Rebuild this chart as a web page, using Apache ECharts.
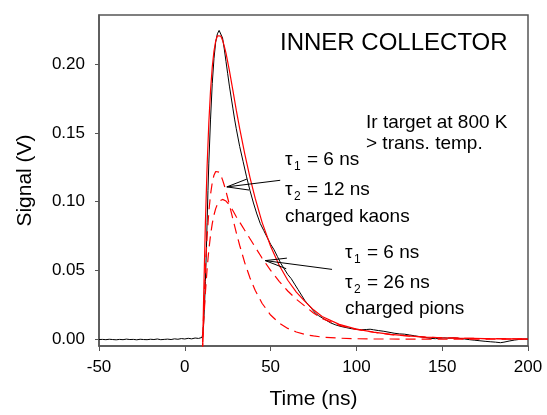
<!DOCTYPE html>
<html>
<head>
<meta charset="utf-8">
<script src="https://cdn.jsdelivr.net/npm/echarts@6/dist/echarts.min.js"></script>
<style>
  html, body { margin: 0; padding: 0; background: #fff; }
  #main { width: 547px; height: 415px; }
</style>
</head>
<body>
<div id="main"></div>
<script>
// measured signal (black trace)
const measTime = [
  -50, -48, -46, -44, -42, -40, -38, -36, -34, -32,
  -30, -28, -26, -24, -22, -20, -18, -16, -14, -12,
  -10, -8, -6, -4, -2, 0, 2, 4, 6, 8,
  10, 10.5, 11, 11.5, 12, 12.5, 13, 13.5, 14, 15,
  16, 17, 18, 19, 20, 21, 22, 23, 24, 25,
  26, 28, 29, 30, 32, 34, 36, 38, 40, 42,
  44, 46, 48, 50, 52, 54, 56, 58, 60, 62,
  64, 66, 68, 70, 72, 74, 76, 78, 80, 82,
  85, 88, 91, 94, 97, 100, 103, 106, 108, 110,
  113, 116, 119, 122, 125, 128, 131, 134, 137, 140,
  143, 146, 148, 151, 154, 157, 160, 163, 166, 169,
  172, 175, 178, 181, 184, 186, 189, 192, 195, 198,
  200
];
const measSignal = [
  -0.0003, -0.0002, -0.0004, -0.0001, -0.0003, -0.0005, -0.0002, -0.0004, 0.0000, -0.0003,
  -0.0002, -0.0005, -0.0001, -0.0003, -0.0004, -0.0001, -0.0003, 0.0001, -0.0004, -0.0002,
  0.0000, -0.0003, 0.0002, -0.0001, 0.0004, 0.0001, 0.0006, 0.0002, 0.0008, 0.0005,
  0.0012, 0.004, 0.012, 0.025, 0.042, 0.062, 0.085, 0.108, 0.128, 0.160,
  0.186, 0.204, 0.216, 0.222, 0.2245, 0.2240, 0.219, 0.211, 0.202, 0.193,
  0.184, 0.168, 0.160, 0.153, 0.140, 0.129, 0.118, 0.108, 0.099, 0.091,
  0.084, 0.079, 0.074, 0.069, 0.065, 0.060, 0.055, 0.051, 0.047, 0.044,
  0.040, 0.036, 0.032, 0.028, 0.025, 0.022, 0.019, 0.017, 0.0155, 0.014,
  0.0118, 0.0103, 0.0092, 0.0084, 0.0076, 0.0072, 0.0068, 0.0070, 0.0072, 0.0068,
  0.0062, 0.0057, 0.0050, 0.0043, 0.0038, 0.0036, 0.0030, 0.0024, 0.0018, 0.0012,
  0.0006, 0.0003, 0.0006, 0.0009, 0.0007, 0.0009, 0.0005, 0.0001, -0.0004, -0.0008,
  -0.0012, -0.0016, -0.0019, -0.0022, -0.0026, -0.0022, -0.0014, -0.0007, -0.0002, 0.0001,
  0.0000
];

// fitted curves (red)
const fitTime = [
  10, 10.5, 11, 12, 13, 14, 15, 16, 17, 18,
  19, 20, 21, 22, 23, 24, 26, 28, 30, 32,
  35, 38, 41, 45, 50, 55, 60, 65, 70, 75,
  80, 90, 100, 110, 120, 130, 140, 150, 160, 175,
  200
];
const fitTotal = [
  -0.0356, 0, 0.0317, 0.0846, 0.1259, 0.1574, 0.1809, 0.1979, 0.2095, 0.2168,
  0.2206, 0.2216, 0.2204, 0.2174, 0.2131, 0.2079, 0.1952, 0.1810, 0.1665, 0.1531,
  0.1343, 0.1175, 0.1025, 0.0851, 0.0675, 0.0537, 0.0428, 0.0342, 0.0274, 0.0213,
  0.0165, 0.0107, 0.0073, 0.0051, 0.0034, 0.0023, 0.0015, 0.0010, 0.0007, 0.0004,
  0.0001
];
const fitKaon = [
  -0.0218, 0, 0.0192, 0.0508, 0.0748, 0.0926, 0.1053, 0.1139, 0.1192, 0.1219,
  0.1225, 0.1214, 0.1191, 0.1158, 0.1119, 0.1075, 0.0977, 0.0875, 0.0775, 0.0681,
  0.0553, 0.0445, 0.0355, 0.0261, 0.0175, 0.0117, 0.0078, 0.0052, 0.0034, 0.0023,
  0.0015, 0.0007, 0.0003, 0.0001, 0.0001, 0, 0, 0, 0, 0,
  0
];
const fitPion = [
  -0.0138, 0, 0.0125, 0.0338, 0.0511, 0.0648, 0.0756, 0.0840, 0.0903, 0.0949,
  0.0981, 0.1002, 0.1013, 0.1016, 0.1012, 0.1004, 0.0975, 0.0935, 0.0890, 0.0850,
  0.0790, 0.0730, 0.0670, 0.0590, 0.0500, 0.0420, 0.0350, 0.0290, 0.0240, 0.0190,
  0.0150, 0.0100, 0.0070, 0.0050, 0.0033, 0.0023, 0.0015, 0.0010, 0.0007, 0.0004,
  0.0001
];

const yTicks = [0, 0.05, 0.1, 0.15, 0.2];

// arrows pointing at the dashed curves (data coords)
const kaonArrowLine = [[55.6, 0.1155], [24.5, 0.1107]];
const kaonArrowHead = [[36.2, 0.1164], [24.5, 0.1107], [37.5, 0.1084]];
const pionArrowLine = [[85.8, 0.0507], [46.9, 0.0571]];
const pionArrowHead = [[59.5, 0.0589], [46.9, 0.0571], [59.1, 0.0512]];

const FONT = '"Liberation Sans", Arial, sans-serif';

let zip = (xs, ys) => xs.map((x, i) => [x, ys[i]]);

let arrowSeries = (pts) => ({
  type: "line",
  data: pts,
  showSymbol: false,
  silent: true,
  lineStyle: { color: "#000", width: 1 },
  z: 5,
});

let txt = (x, y, text, size) => ({
  type: "text",
  x: x,
  y: y,
  style: {
    text: text,
    font: size + "px " + FONT,
    fill: "#000",
    verticalAlign: "middle",
    align: "left",
  },
});

// tau line: τ + subscript + rest
let tau = (x, y, sub, rest) => [
  txt(x, y, "τ", 19),
  txt(x + 9, y + 7, sub, 12),
  txt(x + 22, y, rest, 19),
];

let element = document.getElementById("main");
let myChart = echarts.init(element);
let option = {
  animation: false,
  grid: {
    left: 99,
    right: 19,
    top: 15,
    bottom: 63,
    show: true,
    borderColor: "#555",
    borderWidth: 1.5,
  },
  xAxis: {
    type: "value",
    min: -50,
    max: 200,
    interval: 50,
    name: "Time (ns)",
    nameLocation: "middle",
    nameGap: 43,
    nameTextStyle: { fontFamily: FONT, fontSize: 21, color: "#000" },
    axisLine: { show: true, onZero: false, lineStyle: { color: "#555", width: 1.5 } },
    axisTick: { show: true, inside: false, length: 5, lineStyle: { color: "#555" } },
    axisLabel: { fontFamily: FONT, fontSize: 17, color: "#000", margin: 13 },
    splitLine: { show: false },
  },
  yAxis: {
    type: "value",
    min: -0.005,
    max: 0.2357,
    name: "Signal (V)",
    nameLocation: "middle",
    nameGap: 63,
    nameTextStyle: { fontFamily: FONT, fontSize: 21, color: "#000" },
    axisLine: { show: true, onZero: false, lineStyle: { color: "#555", width: 1.5 } },
    axisTick: {
      show: true,
      inside: false,
      length: 4,
      customValues: yTicks,
      lineStyle: { color: "#555" },
    },
    axisLabel: {
      fontFamily: FONT,
      fontSize: 17,
      color: "#000",
      margin: 14,
      customValues: yTicks,
      formatter: (v) => v.toFixed(2),
    },
    splitLine: { show: false },
  },
  series: [
    {
      name: "measured",
      type: "line",
      data: zip(measTime, measSignal),
      showSymbol: false,
      lineStyle: { color: "#000", width: 1 },
      z: 2,
    },
    {
      name: "fit",
      type: "line",
      data: zip(fitTime, fitTotal),
      showSymbol: false,
      lineStyle: { color: "#ff0000", width: 1.2 },
      z: 3,
    },
    {
      name: "kaons",
      type: "line",
      data: zip(fitTime, fitKaon),
      showSymbol: false,
      lineStyle: { color: "#ff0000", width: 1.2, type: [10, 6] },
      z: 3,
    },
    {
      name: "pions",
      type: "line",
      data: zip(fitTime, fitPion),
      showSymbol: false,
      lineStyle: { color: "#ff0000", width: 1.2, type: [10, 6] },
      z: 3,
    },
    arrowSeries(kaonArrowLine),
    arrowSeries(kaonArrowHead),
    arrowSeries(pionArrowLine),
    arrowSeries(pionArrowHead),
  ],
  graphic: [
    txt(280, 43, "INNER COLLECTOR", 24),
    txt(366, 123, "Ir target at 800 K", 19),
    txt(366, 144, "> trans. temp.", 19),
    ...tau(285, 160, "1", "= 6 ns"),
    ...tau(285, 190, "2", "= 12 ns"),
    txt(285, 217, "charged kaons", 19),
    ...tau(345, 253, "1", "= 6 ns"),
    ...tau(345, 283, "2", "= 26 ns"),
    txt(345, 309, "charged pions", 19),
  ],
};
myChart.setOption(option);
</script>
</body>
</html>
